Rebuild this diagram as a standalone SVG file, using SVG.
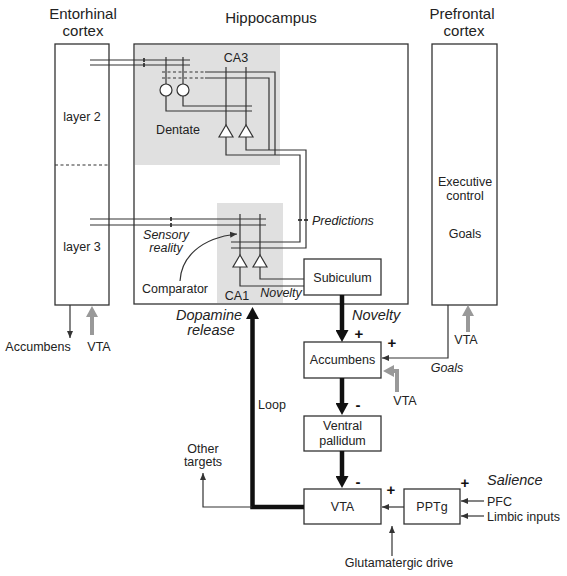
<svg xmlns="http://www.w3.org/2000/svg" width="567" height="576" viewBox="0 0 567 576">
<style>
text{font-family:"Liberation Sans",Arial,sans-serif;fill:#222;font-size:12.5px}
.t{font-size:15px}
.s{font-size:12px}
.i{font-style:italic}
.b{font-size:14.5px;font-style:italic}
.p{font-size:15px;font-weight:bold;fill:#111}
.m{text-anchor:middle}
.box{fill:#fff;stroke:#333;stroke-width:1.3}
.ln{fill:none;stroke:#333;stroke-width:1.2}
.dash{fill:none;stroke:#333;stroke-width:1.2;stroke-dasharray:3,2.5}
.thick{fill:none;stroke:#111;stroke-width:4.5}
.gray{fill:none;stroke:#999;stroke-width:4}
.cell{fill:#fff;stroke:#333;stroke-width:1.2}
</style>
<defs>
<marker id="ah" markerUnits="userSpaceOnUse" markerWidth="7" markerHeight="7" viewBox="0 0 7 7" refX="7" refY="3.5" orient="auto"><path d="M0,0.5 L7,3.5 L0,6.5 z" fill="#333"/></marker>
<marker id="ahk" markerUnits="userSpaceOnUse" markerWidth="13" markerHeight="13" viewBox="0 0 13 13" refX="0" refY="6.5" orient="auto"><path d="M0,0 L12,6.5 L0,13 z" fill="#111"/></marker>
<marker id="ahg" markerUnits="userSpaceOnUse" markerWidth="12" markerHeight="12" viewBox="0 0 12 12" refX="0" refY="6" orient="auto"><path d="M0,0 L11,6 L0,12 z" fill="#999"/></marker>
</defs>

<g id="titles">
<text class="t m" x="83" y="19">Entorhinal</text>
<text class="t m" x="83" y="36">cortex</text>
<text class="t m" x="271" y="23">Hippocampus</text>
<text class="t m" x="462" y="19">Prefrontal</text>
<text class="t m" x="464" y="36">cortex</text>
</g>

<g id="entorhinal">
<rect class="box" x="55" y="44" width="54" height="261"/>
<line class="dash" x1="55" y1="165" x2="109" y2="165"/>
<text class="m" x="82" y="121">layer 2</text>
<text class="m" x="82" y="251">layer 3</text>
</g>

<g id="hippocampus">
<rect class="box" x="134" y="44" width="274" height="260"/>
<rect x="135" y="45" width="145" height="120" fill="#e0e0e0"/>
<rect x="217" y="203" width="66" height="100" fill="#e0e0e0"/>
<text class="m" x="236" y="62">CA3</text>
<text class="m" x="178" y="134">Dentate</text>
<text class="m" x="237" y="300">CA1</text>
<text class="i m" x="281" y="297">Novelty</text>
<text class="m" x="175" y="293">Comparator</text>
<text class="i m" x="166" y="239">Sensory</text>
<text class="i m" x="166" y="252">reality</text>
<text class="i" x="312" y="225">Predictions</text>
</g>

<g id="prefrontal">
<rect class="box" x="432" y="44" width="65" height="261"/>
<text class="m" x="465" y="186">Executive</text>
<text class="m" x="465" y="200">control</text>
<text class="m" x="465" y="238">Goals</text>
</g>

<g id="subiculum">
<rect class="box" x="304" y="259" width="77" height="36"/>
<text class="m" x="342.5" y="282">Subiculum</text>
</g>

<g id="accumbens">
<rect class="box" x="304" y="342" width="77" height="36"/>
<text class="m" x="342.5" y="364">Accumbens</text>
</g>

<g id="ventral-pallidum">
<rect class="box" x="304" y="416" width="77" height="35"/>
<text class="m" x="342.5" y="430">Ventral</text>
<text class="m" x="342.5" y="445">pallidum</text>
</g>

<g id="vta">
<rect class="box" x="304" y="489" width="77" height="35"/>
<text class="m" x="342.5" y="511">VTA</text>
</g>

<g id="pptg">
<rect class="box" x="404" y="489" width="56" height="35"/>
<text class="m" x="432" y="511">PPTg</text>
</g>

<g id="circuit">
<line class="ln" x1="90" y1="60" x2="190" y2="60"/>
<line class="ln" x1="90" y1="65" x2="190" y2="65"/>
<line x1="144" y1="58" x2="144" y2="62" stroke="#333" stroke-width="1.8"/>
<line x1="144" y1="63" x2="144" y2="67" stroke="#333" stroke-width="1.8"/>
<line class="ln" x1="166" y1="57" x2="166" y2="84"/>
<line class="ln" x1="183" y1="57" x2="183" y2="84"/>
<line class="dash" x1="162" y1="72" x2="205" y2="72"/>
<line class="dash" x1="162" y1="78" x2="205" y2="78"/>
<polyline class="ln" points="205,72 275,72 275,155"/>
<polyline class="ln" points="205,78 269,78 269,150"/>
<polyline class="ln" points="166,96 166,111 252,111"/>
<polyline class="ln" points="183,96 183,106 252,106"/>
<circle class="cell" cx="166" cy="90" r="6"/>
<circle class="cell" cx="183" cy="90" r="6"/>
<line class="ln" x1="226" y1="67" x2="226" y2="125"/>
<line class="ln" x1="246" y1="67" x2="246" y2="125"/>
<polyline class="ln" points="226,137 226,155 300,155 300,242 231,242"/>
<polyline class="ln" points="246,137 246,150 306,150 306,248 231,248"/>
<polygon class="cell" points="226,125 219,137 233,137"/>
<polygon class="cell" points="246,125 239,137 253,137"/>
<line x1="298" y1="220" x2="302" y2="220" stroke="#333" stroke-width="1.8"/>
<line x1="304" y1="220" x2="308" y2="220" stroke="#333" stroke-width="1.8"/>
<line class="ln" x1="90" y1="219" x2="266" y2="219"/>
<line class="ln" x1="90" y1="225" x2="266" y2="225"/>
<line x1="171" y1="217" x2="171" y2="221" stroke="#333" stroke-width="1.8"/>
<line x1="171" y1="223" x2="171" y2="227" stroke="#333" stroke-width="1.8"/>
<line class="ln" x1="240" y1="214" x2="240" y2="255"/>
<line class="ln" x1="260" y1="214" x2="260" y2="255"/>
<polyline class="ln" points="240,267 240,286 304,286"/>
<polyline class="ln" points="260,267 260,279 304,279"/>
<polygon class="cell" points="240,255 233,267 247,267"/>
<polygon class="cell" points="260,255 253,267 267,267"/>
<path class="ln" d="M180,281 C181,258 200,238 237,234" marker-end="url(#ah)"/>
</g>

<g id="connectors">
<line class="ln" x1="70" y1="305" x2="70" y2="338" marker-end="url(#ah)"/>
<line class="gray" x1="92" y1="335" x2="92" y2="317" marker-end="url(#ahg)"/>
<line class="gray" x1="468" y1="332" x2="468" y2="316" marker-end="url(#ahg)"/>
<polyline class="ln" points="448,305 448,358 382,358" marker-end="url(#ah)"/>
<polyline class="gray" points="397,392 397,371 394,371" marker-end="url(#ahg)"/>
<line class="thick" x1="342" y1="295" x2="342" y2="330" marker-end="url(#ahk)"/>
<line class="thick" x1="342" y1="378" x2="342" y2="403" marker-end="url(#ahk)"/>
<line class="thick" x1="342" y1="451" x2="342" y2="476" marker-end="url(#ahk)"/>
<polyline class="thick" points="304,507 252.5,507 252.5,319" marker-end="url(#ahk)"/>
<polyline class="ln" points="252,507 203,507 203,473" marker-end="url(#ah)"/>
<line class="ln" x1="404" y1="507" x2="382" y2="507" marker-end="url(#ah)"/>
<line class="ln" x1="484" y1="501" x2="461" y2="501" marker-end="url(#ah)"/>
<line class="ln" x1="484" y1="516" x2="461" y2="516" marker-end="url(#ah)"/>
<line class="ln" x1="392" y1="556" x2="392" y2="526" marker-end="url(#ah)"/>
</g>

<g id="labels">
<text class="m" x="38" y="351">Accumbens</text>
<text class="m" x="99" y="351">VTA</text>
<text class="m" x="466" y="344">VTA</text>
<text class="i m" x="447" y="372">Goals</text>
<text class="m" x="405" y="405">VTA</text>
<text class="b" x="352" y="320">Novelty</text>
<text class="b m" x="209" y="320">Dopamine</text>
<text class="b m" x="211" y="335">release</text>
<text class="p m" x="359" y="339">+</text>
<text class="p m" x="392" y="348">+</text>
<text class="p m" x="358" y="410">-</text>
<text class="p m" x="358" y="487">-</text>
<text class="p m" x="391" y="495">+</text>
<text class="p m" x="465" y="488">+</text>
<text class="b" x="487" y="485">Salience</text>
<text x="487" y="506">PFC</text>
<text x="487" y="521">Limbic inputs</text>
<text class="m" x="399" y="567">Glutamatergic drive</text>
<text class="m" x="272" y="409">Loop</text>
<text class="m" x="203" y="453">Other</text>
<text class="m" x="203" y="466">targets</text>
</g>
</svg>
